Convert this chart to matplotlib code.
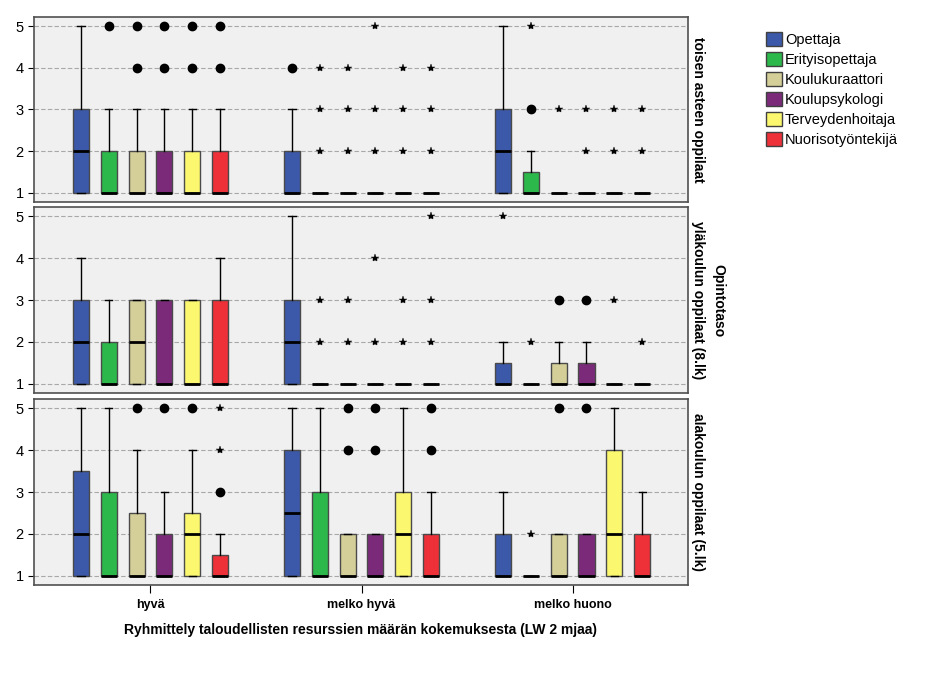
import numpy as np
import matplotlib
matplotlib.use("Agg")
from matplotlib import pyplot as plt
from matplotlib.patches import Patch

plt.rcParams['font.family'] = ['Liberation Sans', 'DejaVu Sans']

panels = ['toisen asteen oppilaat', 'yläkoulun oppilaat (8.lk)', 'alakoulun oppilaat (5.lk)']
groups = ['hyvä', 'melko hyvä', 'melko huono']
series = ['Opettaja', 'Erityisopettaja', 'Koulukuraattori', 'Koulupsykologi',
          'Terveydenhoitaja', 'Nuorisotyöntekijä']
colors = ['#3C58A8', '#2DB84B', '#D4CF98', '#7B2A7A', '#FBF870', '#EE3039']

# panel x group x series
q1 = [[[1] * 6] * 3] * 3
whislo = [[[1] * 6] * 3] * 3
median = [
    [[2, 1, 1, 1, 1, 1], [1, 1, 1, 1, 1, 1], [2, 1, 1, 1, 1, 1]],
    [[2, 1, 2, 1, 1, 1], [2, 1, 1, 1, 1, 1], [1, 1, 1, 1, 1, 1]],
    [[2, 1, 1, 1, 2, 1], [2.5, 1, 1, 1, 2, 1], [1, 1, 1, 1, 2, 1]],
]
q3 = [
    [[3, 2, 2, 2, 2, 2], [2, 1, 1, 1, 1, 1], [3, 1.5, 1, 1, 1, 1]],
    [[3, 2, 3, 3, 3, 3], [3, 1, 1, 1, 1, 1], [1.5, 1, 1.5, 1.5, 1, 1]],
    [[3.5, 3, 2.5, 2, 2.5, 1.5], [4, 3, 2, 2, 3, 2], [2, 1, 2, 2, 4, 2]],
]
whishi = [
    [[5, 3, 3, 3, 3, 3], [3, 1, 1, 1, 1, 1], [5, 2, 1, 1, 1, 1]],
    [[4, 3, 3, 3, 3, 4], [5, 1, 1, 1, 1, 1], [2, 1, 2, 2, 1, 1]],
    [[5, 5, 4, 3, 4, 2], [5, 5, 2, 2, 5, 3], [3, 1, 2, 2, 5, 3]],
]
# outliers (circles)
outliers = [
    [[[], [5], [4, 5], [4, 5], [4, 5], [4, 5]],
     [[4], [], [], [], [], []],
     [[], [3], [], [], [], []]],
    [[[], [], [], [], [], []],
     [[], [], [], [], [], []],
     [[], [], [3], [3], [], []]],
    [[[], [], [5], [5], [5], [3]],
     [[], [], [4, 5], [4, 5], [], [4, 5]],
     [[], [], [5], [5], [], []]],
]
# extremes (stars)
extremes = [
    [[[], [], [], [], [], []],
     [[], [2, 3, 4], [2, 3, 4], [2, 3, 5], [2, 3, 4], [2, 3, 4]],
     [[], [5], [3], [2, 3], [2, 3], [2, 3]]],
    [[[], [], [], [], [], []],
     [[], [2, 3], [2, 3], [2, 4], [2, 3], [2, 3, 5]],
     [[5], [2], [], [], [3], [2]]],
    [[[], [], [], [], [], [4, 5]],
     [[], [], [], [], [], []],
     [[], [2], [], [], [], []]],
]

fig = plt.figure(figsize=(9.37, 6.9), dpi=100)
W, H = 937.0, 690.0
panel_px = [(17, 202), (207, 393), (399, 585)]
step = 0.132
bw = 0.076

for p, (top, bot) in enumerate(panel_px):
    ax = fig.add_axes([34 / W, 1 - bot / H, (688 - 34) / W, (bot - top) / H])
    ax.set_facecolor('#F0F0F0')
    stats, pos, cols = [], [], []
    for g in range(3):
        for s in range(6):
            stats.append(dict(med=median[p][g][s], q1=q1[p][g][s], q3=q3[p][g][s],
                              whislo=whislo[p][g][s], whishi=whishi[p][g][s],
                              fliers=outliers[p][g][s]))
            pos.append(g + (s - 2.5) * step)
            cols.append(colors[s])
            ex = extremes[p][g][s]
            if ex:
                ax.plot([pos[-1]] * len(ex), ex, ls='none', marker='*', ms=6,
                        mfc='black', mec='black', mew=0.3, zorder=4)
    bp = ax.bxp(stats, positions=pos, widths=bw, patch_artist=True,
                capwidths=0.035,
                boxprops=dict(edgecolor='#4a4a4a', linewidth=1),
                medianprops=dict(color='black', linewidth=2),
                whiskerprops=dict(color='black', linewidth=1),
                capprops=dict(color='black', linewidth=1),
                flierprops=dict(marker='o', markersize=6, markerfacecolor='black',
                                markeredgecolor='black'))
    for patch, c in zip(bp['boxes'], cols):
        patch.set_facecolor(c)
    ax.set_xlim(-0.552, 2.547)
    ax.set_ylim(0.78, 5.22)
    ax.set_yticks([1, 2, 3, 4, 5])
    ax.yaxis.grid(True, ls=(0, (4, 2)), color='#a8a8a8', lw=0.8)
    ax.set_axisbelow(True)
    ax.tick_params(axis='y', labelsize=10.5, length=4, direction='out')
    for sp in ax.spines.values():
        sp.set_color('#505050')
        sp.set_linewidth(1.2)
    if p == 2:
        ax.set_xticks([0, 1, 2])
        ax.set_xticklabels(groups, fontsize=9, fontweight='bold')
        ax.tick_params(axis='x', length=6, pad=4)
        ax.set_xlabel('Ryhmittely taloudellisten resurssien määrän kokemuksesta (LW 2 mjaa)',
                      fontsize=10, fontweight='bold', labelpad=9)
    else:
        ax.set_xticks([])
    ax.text(1.005, 0.5, panels[p], transform=ax.transAxes, rotation=270,
            ha='left', va='center', fontsize=10, fontweight='bold')

fig.text(718 / W, 1 - 301 / H, 'Opintotaso', rotation=270, ha='center', va='center',
         fontsize=10, fontweight='bold')

handles = [Patch(facecolor=c, edgecolor='#404040', label=l) for c, l in zip(colors, series)]
fig.legend(handles=handles, loc='upper left', bbox_to_anchor=(760 / W, 1 - 26 / H),
           frameon=False, fontsize=10.5, handlelength=1.1, handleheight=1.1,
           handletextpad=0.2, labelspacing=0.35, borderaxespad=0)

fig.savefig('out.png', dpi=100)
